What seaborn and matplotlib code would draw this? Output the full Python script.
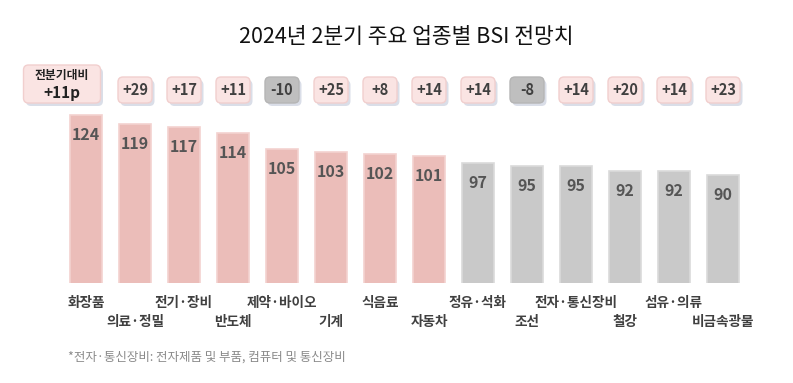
import matplotlib
matplotlib.use("Agg")
import matplotlib.pyplot as plt
from matplotlib.patches import FancyBboxPatch
import seaborn as sns
import pandas as pd

categories = ["화장품", "의료·정밀", "전기·장비", "반도체", "제약·바이오", "기계", "식음료",
              "자동차", "정유·석화", "조선", "전자·통신장비", "철강", "섬유·의류", "비금속광물"]
values = [124, 119, 117, 114, 105, 103, 102, 101, 97, 95, 95, 92, 92, 90]
changes = [None, "+29", "+17", "+11", "-10", "+25", "+8", "+14", "+14", "-8", "+14", "+20", "+14", "+23"]
total_label = "전분기대비"
total_change = "+11p"
title = "2024년 2분기 주요 업종별 BSI 전망치"
footnote = "*전자·통신장비: 전자제품 및 부품, 컴퓨터 및 통신장비"

sns.set_theme(style="white")
plt.rcParams["font.family"] = ["Noto Sans CJK KR", "DejaVu Sans"]

W, H = 793, 383
fig = plt.figure(figsize=(W / 100, H / 100), dpi=100)
fig.patch.set_facecolor("white")

px_per_unit = 1.76
ybase = 28.6
ax_bottom_px = 283
ax_top_px = 60
left_px, right_px = 61.5, 747.5
ax = fig.add_axes([left_px / W, (H - ax_bottom_px) / H, (right_px - left_px) / W,
                   (ax_bottom_px - ax_top_px) / H])
ax.set_facecolor("white")

PINK, PINK_EDGE = "#EBBDB9", "#F3D2CF"
GRAY, GRAY_EDGE = "#C9C9C9", "#DADADA"
colors = [PINK if v >= 100 else GRAY for v in values]
edges = [PINK_EDGE if v >= 100 else GRAY_EDGE for v in values]

df = pd.DataFrame({"cat": categories, "val": values})
sns.barplot(data=df, x="cat", y="val", hue="cat", palette=colors, legend=False,
            width=0.65, ax=ax, saturation=1)
for p, ec in zip(ax.patches, edges):
    p.set_edgecolor(ec)
    p.set_linewidth(1.2)

ax.set_xlim(-0.5, len(categories) - 0.5)
ax.set_ylim(ybase, ybase + (ax_bottom_px - ax_top_px) / px_per_unit)
ax.set_xlabel("")
ax.set_ylabel("")
ax.set_xticks([])
ax.set_yticks([])
for s in ax.spines.values():
    s.set_visible(False)

# value labels inside bars
for i, v in enumerate(values):
    ax.annotate(str(v), xy=(i, v), xytext=(0, -20), textcoords="offset pixels",
                ha="center", va="center", fontsize=11.5, fontweight="bold", color="#555555")

# category labels (two staggered rows)
for i, c in enumerate(categories):
    off = -20 if i % 2 == 0 else -39
    ax.annotate(c, xy=(i, ybase), xytext=(0, off), textcoords="offset pixels",
                ha="center", va="center", fontsize=9.8, fontweight="bold", color="#404040",
                annotation_clip=False)

ux = 49.0  # px per x unit
asp = ux / px_per_unit


def badge(xc, yc, wpx, hpx, fc, ec):
    w = wpx / ux
    h = hpx / px_per_unit
    # shadow
    sh = FancyBboxPatch((xc - w / 2 + 2.5 / ux, yc - h / 2 - 3 / px_per_unit), w, h,
                        boxstyle="round,pad=0,rounding_size=%f" % (5 / ux),
                        mutation_aspect=asp, fc="#BCC3D6", ec="none", alpha=0.55,
                        clip_on=False, zorder=3)
    ax.add_patch(sh)
    b = FancyBboxPatch((xc - w / 2, yc - h / 2), w, h,
                       boxstyle="round,pad=0,rounding_size=%f" % (5 / ux),
                       mutation_aspect=asp, fc=fc, ec=ec, lw=1.0,
                       clip_on=False, zorder=4)
    ax.add_patch(b)


yb = ybase + (ax_bottom_px - 90) / px_per_unit
for i, ch in enumerate(changes):
    if ch is None:
        continue
    neg = ch.startswith("-")
    fc = "#BFBFBF" if neg else "#FAE4E3"
    ec = "#B5B5B5" if neg else "#F1CFCE"
    badge(i, yb, 34, 26, fc, ec)
    ax.text(i, yb, ch, ha="center", va="center", fontsize=10.5, fontweight="bold",
            color="#404040", zorder=5)

# overall badge
xc0 = (62 - left_px) / ux - 0.5
yc0 = ybase + (ax_bottom_px - 84) / px_per_unit
badge(xc0, yc0, 77, 38, "#FAE4E3", "#F1CFCE")
ax.text(xc0, yc0 + 8 / px_per_unit, total_label, ha="center", va="center", fontsize=8.5,
        fontweight="bold", color="#222222", zorder=5)
ax.text(xc0, yc0 - 9 / px_per_unit, total_change, ha="center", va="center", fontsize=11,
        fontweight="bold", color="#222222", zorder=5)

fig.text(406 / W, 1 - 37 / H, title, ha="center", va="center", fontsize=15.5, color="#111111")
fig.text(68 / W, 1 - 357 / H, footnote, ha="left", va="center", fontsize=9, fontweight="medium",
         color="#8A8A8A")

fig.savefig("out.png", dpi=100, facecolor="white")
